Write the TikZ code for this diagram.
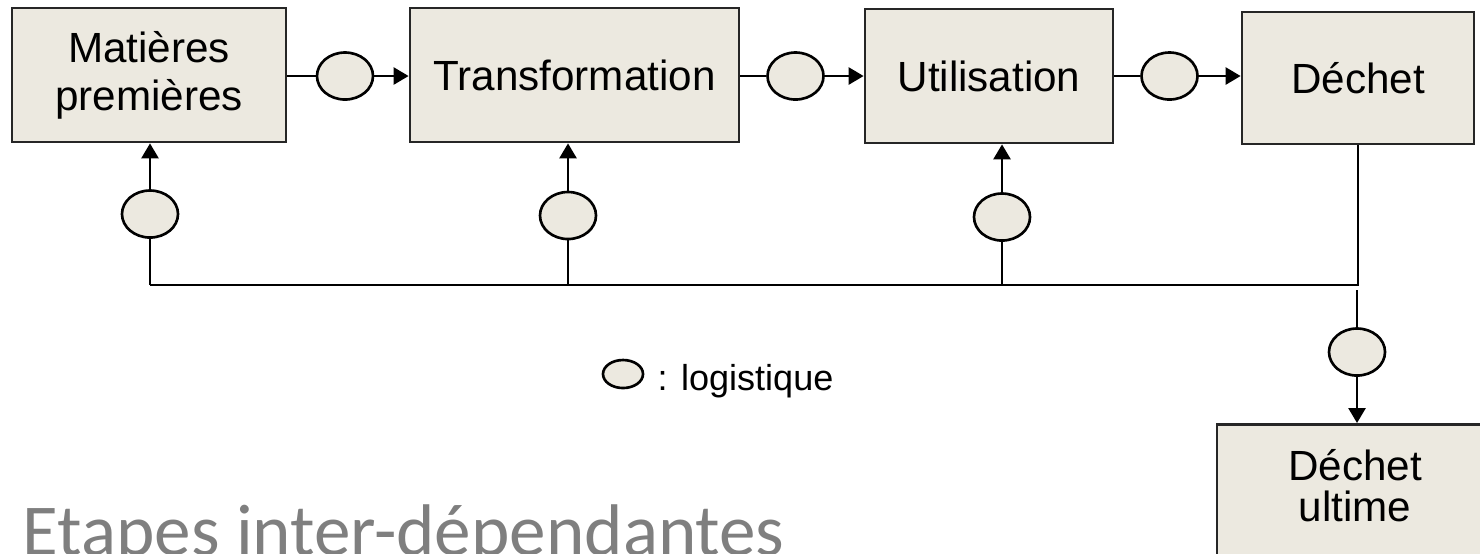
\documentclass[tikz,border=0pt]{standalone}
\usepackage{fontspec}
\setmainfont{Liberation Sans}
\newfontfamily\titlefont{Carlito}
\usetikzlibrary{arrows.meta,shapes.geometric}
\definecolor{boxfill}{RGB}{236,233,224}
\definecolor{titlegray}{RGB}{127,127,127}
\begin{document}
\begin{tikzpicture}[x=0.01cm,y=-0.01cm,
  stage/.style={draw=black!85, line width=0.75pt, fill=boxfill, inner sep=0pt, align=center,
    font=\fontsize{12pt}{13.7pt}\selectfont},
  logi/.style={ellipse, draw=black, line width=0.75pt, fill=boxfill,
    minimum width=0.56cm, minimum height=0.47cm, inner sep=0pt},
  conn/.style={line width=0.75pt},
  flow/.style={conn, -{Triangle[length=0.15cm,width=0.17cm]}},
]
\useasboundingbox (0,0) rectangle (1480,553);

% stage boxes
\node[stage, minimum width=2.74cm, minimum height=1.34cm] (mp) at (149,75) {Matières\\premières};
\node[stage, minimum width=3.29cm, minimum height=1.34cm] (tr) at (574.5,75) {Transformation};
\node[stage, minimum width=2.48cm, minimum height=1.34cm] (ut) at (989,76) {Utilisation};
\node[stage, minimum width=2.32cm, minimum height=1.32cm] (de) at (1358,78) {Déchet};
\node[stage, minimum width=2.76cm, minimum height=1.9cm, anchor=north,
  label={[name=dut, anchor=north, inner sep=0pt, align=center,
    font=\fontsize{12pt}{11.6pt}\selectfont, yshift=-0.26cm]north:Déchet\\ultime}] (du) at (1355,423) {};

% logistics between stages
\node[logi] (e1) at (345,76) {};
\node[logi] (e2) at (795.5,76) {};
\node[logi] (e3) at (1169.5,76) {};
\draw[conn] (mp.east |- e1) -- (e1);
\draw[flow] (e1) -- (e1 -| tr.west);
\draw[conn] (tr.east |- e2) -- (e2);
\draw[flow] (e2) -- (e2 -| ut.west);
\draw[conn] (ut.east |- e3) -- (e3);
\draw[flow] (e3) -- (e3 -| de.west);

% return loop
\node[logi] (b1) at (150,214) {};
\node[logi] (b2) at (568,215.5) {};
\node[logi] (b3) at (1002,217) {};
\coordinate (j1) at (150,285);
\coordinate (j2) at (568,285);
\coordinate (j3) at (1002,285);
\coordinate (j4) at (1358,285);
\draw[conn] (de.south -| j4) -- (j4) -- (j1);
\draw[conn] (j1) -- (b1);
\draw[conn] (j2) -- (b2);
\draw[conn] (j3) -- (b3);
\draw[flow] (b1) -- (b1 |- mp.south);
\draw[flow] (b2) -- (b2 |- tr.south);
\draw[flow] (b3) -- (b3 |- ut.south);

% to final waste
\coordinate (g) at (1357,290);
\node[logi] (b4) at (1357,352) {};
\draw[conn] (g) -- (b4);
\draw[flow] (b4) -- (b4 |- du.north);

% legend
\node[logi, minimum width=0.40cm, minimum height=0.28cm] (leg) at (623,374) {};
\node[anchor=base west, inner sep=0pt, font=\fontsize{10.25pt}{12pt}\selectfont] (legt) at (657,390) {: logistique};

% title
\node[anchor=base west, inner sep=0pt, text=titlegray,
  font=\titlefont\fontsize{20.8pt}{24pt}\selectfont] (title) at (22,555) {Etapes inter-dépendantes};
\end{tikzpicture}
\end{document}
